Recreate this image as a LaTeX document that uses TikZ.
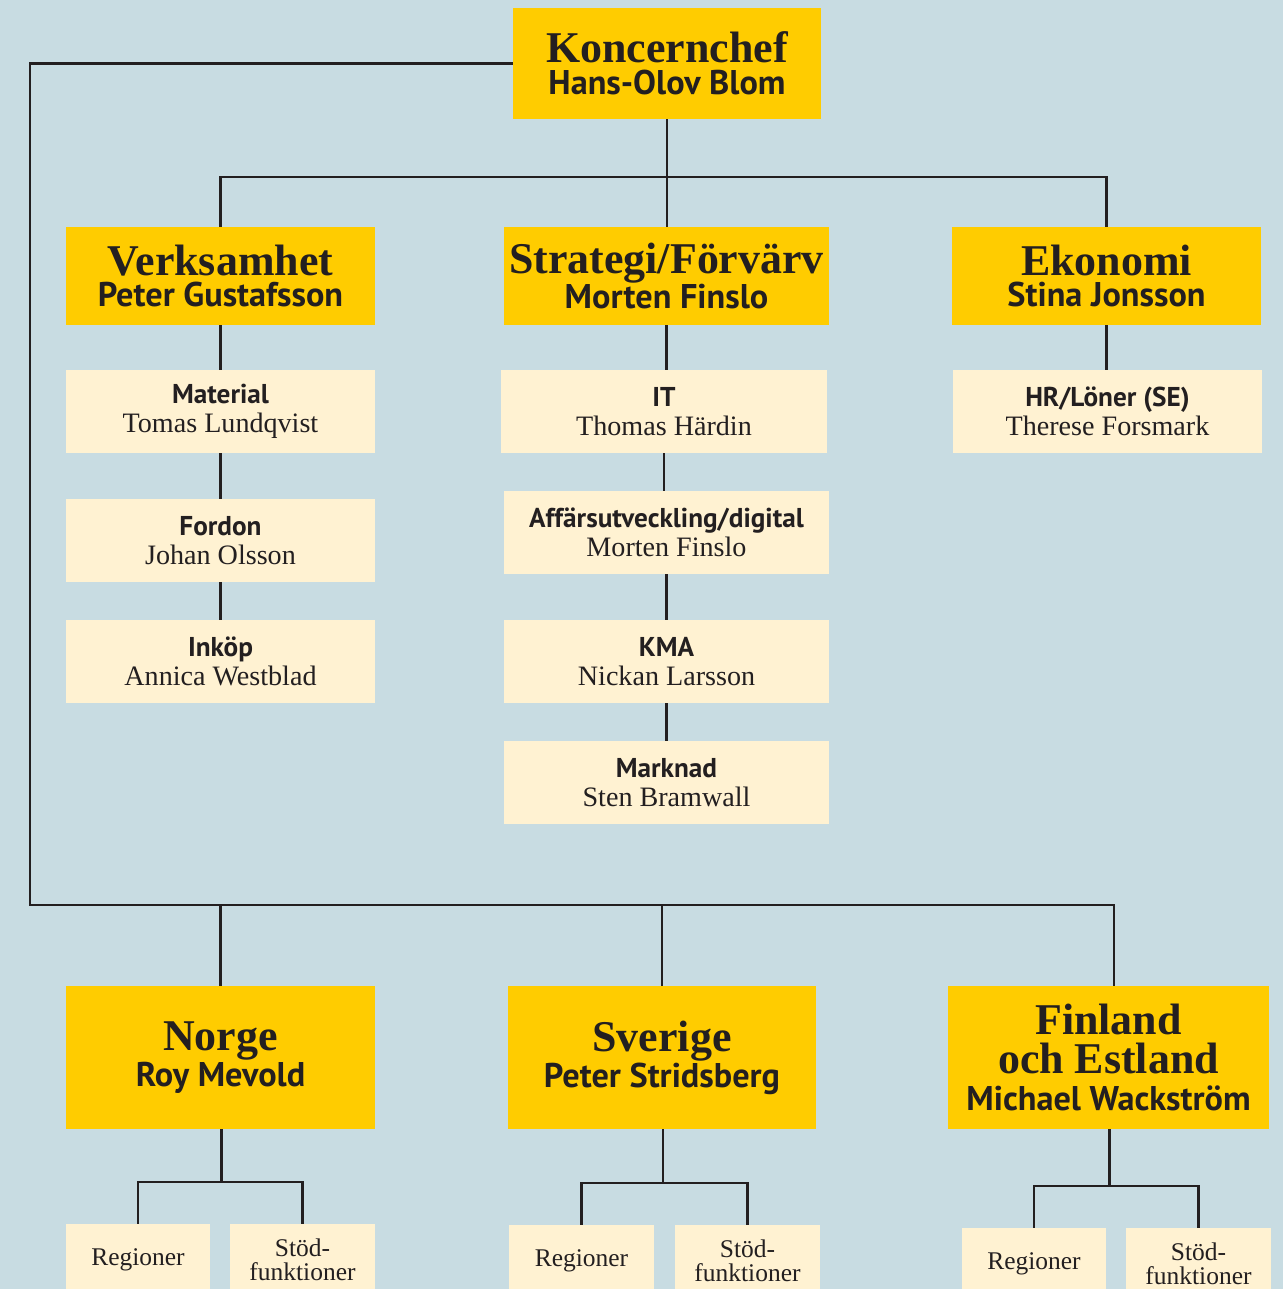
\documentclass[tikz,border=0pt]{standalone}
\usepackage{fontspec}
\usepackage{tikz}
\setmainfont{Liberation Serif}
\newfontfamily\namefont{PT Sans}
\definecolor{bgblue}{HTML}{C8DCE2}
\definecolor{headyellow}{HTML}{FFCC00}
\definecolor{subcream}{HTML}{FFF2D2}
\definecolor{ink}{HTML}{231F20}
% title + name inside the yellow boxes
\newcommand{\headtxt}[2]{{\fontsize{25}{18}\selectfont\bfseries #1}\\{\namefont\bfseries #2}}
% bold label + serif name inside the pale boxes
\newcommand{\subtxt}[2]{{\namefont\bfseries\fontsize{15.5}{16.5}\selectfont #1}\\{#2}}

\begin{document}
\begin{tikzpicture}[x=0.02cm,y=-0.02cm,
	headbox/.style={fill=headyellow,text=ink,inner sep=0pt,align=center,
		minimum width=6.18cm,minimum height=1.96cm,font=\fontsize{19.5}{18}\selectfont},
	subbox/.style={fill=subcream,text=ink,inner sep=0pt,align=center,
		minimum width=6.18cm,minimum height=1.66cm,font=\fontsize{16}{16.5}\selectfont},
	smallbox/.style={fill=subcream,text=ink,inner sep=0pt,align=center,
		minimum width=2.9cm,minimum height=1.44cm,font=\fontsize{14.5}{13.5}\selectfont},
	link/.style={draw=ink,line width=1.2pt}]
	\useasboundingbox (0,0) rectangle (1283,1289);
	\fill[bgblue] (0,0) rectangle (1283,1289);

	%TOP
	\node[headbox,minimum width=6.16cm,minimum height=2.22cm] (chief) at (667,63.5)
		{\headtxt{Koncernchef}{Hans-Olov Blom}};
	\node[headbox] (verk) at (220.5,276) {\headtxt{Verksamhet}{Peter Gustafsson}};
	\node[headbox,minimum width=6.5cm] (strat) at (666.5,276) {\headtxt{Strategi/Förvärv}{Morten Finslo}};
	\node[headbox] (ekon) at (1106.5,276) {\headtxt{Ekonomi}{Stina Jonsson}};
	\coordinate (split) at (665,177);
	\coordinate (corner) at (30,905);

	%UNITS UNDER THE HEADS
	\node[subbox] (mat) at (220.5,411.5) {\subtxt{Material}{Tomas Lundqvist}};
	\node[subbox] (ford) at (220.5,540.5) {\subtxt{Fordon}{Johan Olsson}};
	\node[subbox] (inkop) at (220.5,661.5) {\subtxt{Inköp}{Annica Westblad}};
	\node[subbox,minimum width=6.52cm] (it) at (664,411.5) {\subtxt{IT}{Thomas Härdin}};
	\node[subbox,minimum width=6.5cm] (affar) at (666.5,532.5) {\subtxt{Affärsutveckling/digital}{Morten Finslo}};
	\node[subbox,minimum width=6.5cm] (kma) at (666.5,661.5) {\subtxt{KMA}{Nickan Larsson}};
	\node[subbox,minimum width=6.5cm] (mark) at (666.5,782.5) {\subtxt{Marknad}{Sten Bramwall}};
	\node[subbox] (hr) at (1107.5,411.5) {\subtxt{HR/Löner (SE)}{Therese Forsmark}};

	%COUNTRIES
	\node[headbox,minimum height=2.86cm] (norge) at (220.5,1057.5) {\headtxt{Norge}{Roy Mevold}};
	\node[headbox,minimum width=6.16cm,minimum height=2.86cm] (sver) at (662,1057.5) {\headtxt{Sverige}{Peter Stridsberg}};
	\node[headbox,minimum width=6.42cm,minimum height=2.86cm] (finl) at (1108.5,1057.5)
		{{\fontsize{25}{18}\selectfont\bfseries Finland}\\[4.5pt]{\fontsize{25}{18}\selectfont\bfseries och Estland}\\[3pt]{\namefont\bfseries Michael Wackström}};
	\node[smallbox] (nreg) at (138,1260) {Regioner};
	\node[smallbox] (nstod) at (302.5,1260) {Stöd-\\funktioner};
	\node[smallbox] (sreg) at (581.5,1261) {Regioner};
	\node[smallbox] (sstod) at (747.5,1261) {Stöd-\\funktioner};
	\node[smallbox] (freg) at (1034,1264) {Regioner};
	\node[smallbox] (fstod) at (1198.5,1264) {Stöd-\\funktioner};

	%LINES
	\draw[link] (chief.south) -- (chief.south |- strat.north);
	\draw[link] (verk.north) |- (split) -| (ekon.north);
	\draw[link] (chief.west) -| (corner) -| ([xshift=0.11cm]finl.north);
	\draw[link] (norge.north) -- (norge.north |- corner);
	\draw[link] (sver.north) -- (sver.north |- corner);
	\foreach \a/\b in {verk/mat,mat/ford,ford/inkop,strat/it,it/affar,affar/kma,kma/mark,ekon/hr}
		\draw[link] (\a.south) -- (\a.south |- \b.north);
	\foreach \c/\r/\s in {norge/nreg/nstod,sver/sreg/sstod,finl/freg/fstod}{
		\path ([xshift=0.02cm]\c.south |- \r.north) ++(0,-42) coordinate (\c-fork);
		\draw[link] ([xshift=0.02cm]\c.south) -- (\c-fork);
		\draw[link] (\r.north) |- (\c-fork) -| (\s.north);
	}
\end{tikzpicture}
\end{document}
